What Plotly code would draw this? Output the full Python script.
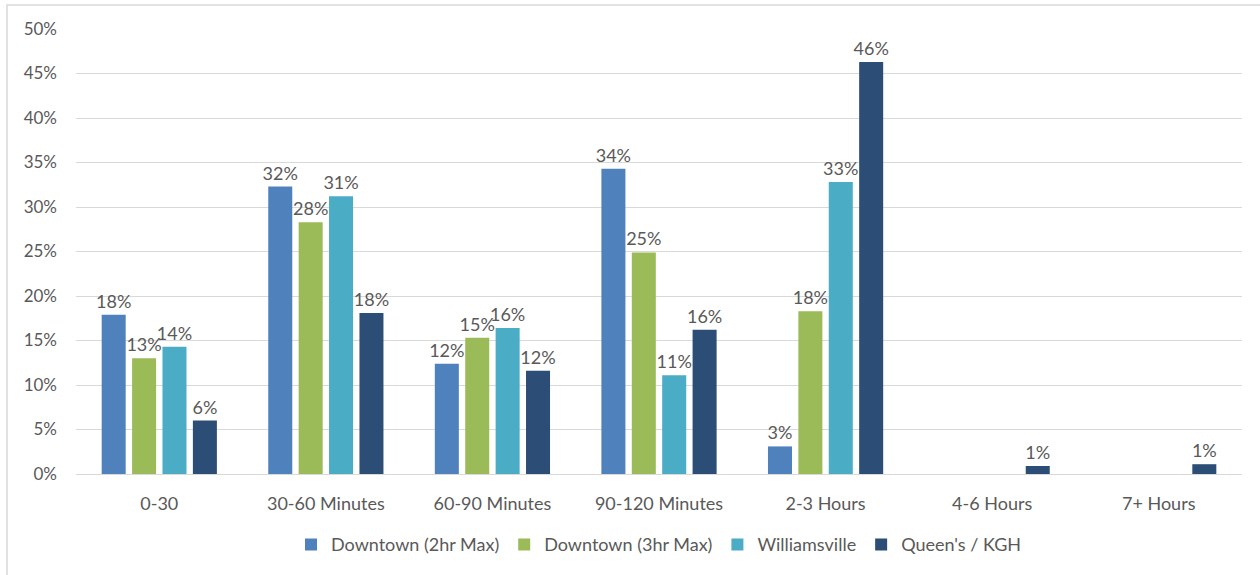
import plotly.graph_objects as go

# Parking duration categories and share of sessions per lot
categories = ["0-30", "30-60 Minutes", "60-90 Minutes", "90-120 Minutes",
              "2-3 Hours", "4-6 Hours", "7+ Hours"]
downtown_2hr = [0.179, 0.323, 0.124, 0.343, 0.031, None, None]
downtown_3hr = [0.130, 0.283, 0.153, 0.249, 0.183, None, None]
williamsville = [0.143, 0.312, 0.164, 0.111, 0.328, None, None]
queens_kgh = [0.060, 0.181, 0.116, 0.162, 0.463, 0.009, 0.011]

series = [
    ("Downtown (2hr Max)", downtown_2hr, "#4F81BD"),
    ("Downtown (3hr Max)", downtown_3hr, "#9BBB59"),
    ("Williamsville", williamsville, "#4BACC6"),
    ("Queen's / KGH", queens_kgh, "#2C4D75"),
]

FONT = "Lato"
GREY = "#595959"

fig = go.Figure()
for name, vals, color in series:
    fig.add_trace(go.Bar(
        name=name, x=categories, y=vals,
        marker=dict(color=color, line=dict(width=0)),
        texttemplate="%{y:.0%}", textposition="outside",
        constraintext="none", cliponaxis=False,
        textfont=dict(family=FONT, size=18, color=GREY),
    ))

fig.update_layout(
    width=1260, height=575,
    margin=dict(l=76, r=18, t=29, b=99),
    paper_bgcolor="white", plot_bgcolor="white",
    barmode="group", bargap=0.27, bargroupgap=0.21,
    font=dict(family=FONT, size=17, color=GREY),
    showlegend=True,
    legend=dict(orientation="h", x=0.5, xanchor="center", y=-0.159,
                yanchor="middle", font=dict(family=FONT, size=18, color=GREY),
                itemwidth=30, traceorder="normal"),
    xaxis=dict(showgrid=False, showline=True, linecolor="#D9D9D9", linewidth=1,
               ticks="", ticklabelstandoff=13,
               tickfont=dict(family=FONT, size=18, color=GREY)),
    yaxis=dict(range=[0, 0.5], dtick=0.05, tickformat=".0%",
               showgrid=True, gridcolor="#D9D9D9", gridwidth=1,
               zeroline=False, showline=False, ticks="",
               ticklabelstandoff=18,
               tickfont=dict(family=FONT, size=17, color=GREY)),
    shapes=[dict(type="rect", xref="paper", yref="paper",
                 x0=-69 / 1166, x1=1.02, y0=-0.3, y1=1.054,
                 line=dict(color="#D9D9D9", width=1.5), layer="below")],
)

fig.write_html("out.html")
